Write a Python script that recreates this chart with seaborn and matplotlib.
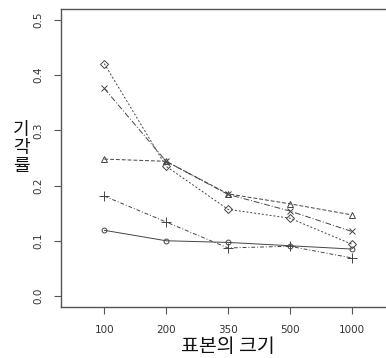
import numpy as np
import pandas as pd
import seaborn as sns
import matplotlib.pyplot as plt

sizes = ['100', '200', '350', '500', '1000']
s_circle = [0.119, 0.100, 0.097, 0.091, 0.085]
s_plus = [0.181, 0.134, 0.087, 0.090, 0.069]
s_tri = [0.248, 0.244, 0.185, 0.167, 0.147]
s_x = [0.376, 0.244, 0.184, 0.154, 0.117]
s_diam = [0.421, 0.235, 0.157, 0.141, 0.094]

sns.set_style("white")
plt.rcParams['font.family'] = ['DejaVu Sans']

fig = plt.figure(figsize=(3.86, 3.58), dpi=100)
ax = fig.add_axes([0.158, 0.1425, 0.865, 0.8324])

pos = np.arange(1, len(sizes) + 1)
series = [
    (s_circle, 'o', '-', 3.5),
    (s_plus, '+', (0, (4, 2, 1, 2)), 6.5),
    (s_tri, '^', (0, (4, 2)), 5),
    (s_x, 'x', (0, (6, 2, 1, 2)), 5),
    (s_diam, 'D', (0, (2, 2)), 4.2),
]
for vals, m, ls, ms in series:
    df = pd.DataFrame({'x': pos, 'y': vals})
    sns.lineplot(data=df, x='x', y='y', ax=ax, color='#444444', linewidth=0.7,
                 linestyle=ls, marker=m, markersize=ms, markerfacecolor='none',
                 markeredgecolor='#444444', markeredgewidth=0.7)

ax.set_xlim(0.3, 5.7)
ax.set_ylim(-0.02, 0.52)
ax.set_xticks(pos)
ax.set_xticklabels(sizes)
ax.set_yticks([0.0, 0.1, 0.2, 0.3, 0.4, 0.5])
ax.set_yticklabels(['0.0', '0.1', '0.2', '0.3', '0.4', '0.5'], rotation=90, va='center')
ax.tick_params(axis='both', direction='out', length=5, width=0.8, colors='#555555',
               labelsize=7.5, labelcolor='#333333', bottom=True, left=True, pad=8)
for side in ['left', 'bottom', 'top']:
    ax.spines[side].set_color('#555555')
    ax.spines[side].set_linewidth(1.0)
ax.spines['right'].set_visible(False)

ax.set_xlabel('')
ax.set_ylabel('')
fig.text(228 / 386, 1 - 346 / 358, '표본의 크기', family=['Noto Sans CJK KR', 'DejaVu Sans'],
         fontsize=14, ha='center', va='center', color='#111111')
fig.text(21 / 386, 1 - 148 / 358, '기\n각\n률', family=['Noto Sans CJK KR', 'DejaVu Sans'],
         fontsize=13, ha='center', va='center', linespacing=1.0, color='#111111')

fig.savefig('out.png', dpi=100)
